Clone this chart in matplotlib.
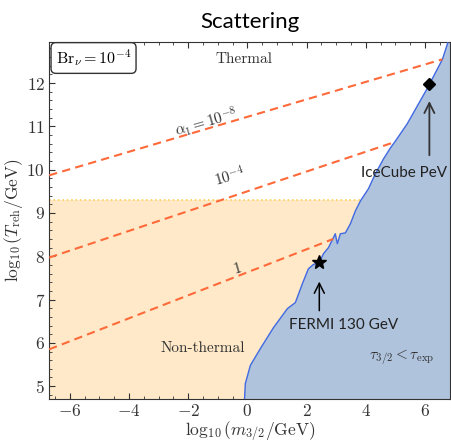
import matplotlib
matplotlib.use('Agg')
import matplotlib.pyplot as plt

plt.rcParams['mathtext.fontset'] = 'cm'
plt.rcParams['font.family'] = ['cmr10', 'DejaVu Serif']
plt.rcParams['axes.formatter.use_mathtext'] = True

# Plot ranges
xlim = (-6.7, 6.85)
ylim = (4.7, 12.95)

# Lifetime bound tau_{3/2} < tau_exp (boundary of the blue region)
bound_x = [-0.1, -0.07, 0.1, 0.44, 0.88, 1.35, 1.62, 1.86, 2.06, 2.23, 2.43,
           2.57, 2.74, 2.97, 3.04, 3.14, 3.31, 3.48, 3.65, 3.82, 4.09, 4.32,
           4.6, 4.83, 5.0, 5.4, 6.08, 6.59, 6.79]
bound_y = [4.67, 5.06, 5.48, 5.87, 6.35, 6.79, 6.93, 7.37, 7.71, 7.81, 7.86,
           8.06, 8.2, 8.52, 8.29, 8.52, 8.54, 8.75, 9.05, 9.28, 9.56, 9.9,
           10.25, 10.5, 10.66, 11.06, 11.88, 12.55, 12.97]

# thermal / non-thermal threshold
t_thermal = 9.3
t_thermal_xmax = 3.85

# alpha_1 contours (endpoints)
alpha_labels = [r'$\alpha_1 = 10^{-8}$', r'$10^{-4}$', r'$1$']
alpha_x = [(-6.7, 6.59), (-6.7, 4.9), (-6.7, 2.9)]
alpha_y = [(9.87, 12.55), (7.97, 10.62), (5.85, 8.4)]
alpha_label_pos = [(-1.4, 11.1), (-0.6, 9.85), (-0.35, 7.72)]

# experimental hints
fermi = (2.43, 7.86)
icecube = (6.15, 11.97)

fig = plt.figure(figsize=(4.51, 4.42), dpi=100)
ax = fig.add_axes([0.109, 0.097, 0.889, 0.808])

# non-thermal region
ax.axhspan(ylim[0], t_thermal, color='#ffe9c8', zorder=0, lw=0)
ax.hlines(t_thermal, xlim[0], t_thermal_xmax, colors='#ffcf5a', linestyles=':', lw=1.2, zorder=1)

# excluded region
poly_x = bound_x + [xlim[1] + 1, xlim[1] + 1]
poly_y = bound_y + [ylim[1] + 1, ylim[0] - 1]
ax.fill(poly_x, poly_y, color='#afc3dd', lw=0, zorder=2)
ax.plot(bound_x, bound_y, color='#4169e1', lw=1.0, zorder=3)

for lab, xs, ys, pos in zip(alpha_labels, alpha_x, alpha_y, alpha_label_pos):
    ax.plot(xs, ys, color='#ff6a3a', ls='--', lw=1.5, zorder=4, dashes=(4, 2.5))
    ax.text(pos[0], pos[1], lab, rotation=16, ha='center', va='center', fontsize=11, color='#333333')

ax.plot(*fermi, marker='*', color='k', ms=10, zorder=5)
ax.plot(*icecube, marker='D', color='k', ms=6, zorder=5)
ax.annotate('', xy=(fermi[0], fermi[1] - 0.38), xytext=(fermi[0], fermi[1] - 1.18),
            arrowprops=dict(arrowstyle='->', color='k', lw=1.1, mutation_scale=18), zorder=5)
ax.annotate('', xy=(icecube[0], icecube[1] - 0.32), xytext=(icecube[0], icecube[1] - 1.7),
            arrowprops=dict(arrowstyle='->', color='#333333', lw=1.3, mutation_scale=18), zorder=5)
ax.text(3.24, 6.42, 'FERMI 130 GeV', family='Lato', fontsize=11, ha='center', va='center', color='#222222')
ax.text(5.3, 9.93, 'IceCube PeV', family='Lato', fontsize=11, ha='center', va='center', color='#222222')

ax.text(-0.1, 12.55, 'Thermal', fontsize=11, ha='center', va='center', color='#333333')
ax.text(-1.5, 5.87, 'Non-thermal', fontsize=11, ha='center', va='center', color='#333333')
ax.text(5.2, 5.66, r'$\tau_{3/2} < \tau_{\rm exp}$', fontsize=11, ha='center', va='center', color='#333333')
ax.text(-5.2, 12.58, r'$\mathrm{Br}_\nu = 10^{-4}$', fontsize=11.5, ha='center', va='center',
        bbox=dict(boxstyle='round,pad=0.3', fc='white', ec='#333333', lw=1.0), zorder=6)

ax.set_xlim(*xlim)
ax.set_ylim(*ylim)
ax.set_xticks([-6, -4, -2, 0, 2, 4, 6])
ax.set_yticks([5, 6, 7, 8, 9, 10, 11, 12])
ax.minorticks_on()
ax.tick_params(which='both', direction='in', top=True, right=True, labelsize=12.5, colors='#333333')
ax.tick_params(which='major', length=4, pad=3)
ax.tick_params(which='minor', length=2)
for s in ax.spines.values():
    s.set_color('#333333')
ax.set_xlabel(r'$\log_{10}(m_{3/2}/\mathrm{GeV})$', fontsize=12.5, labelpad=0, color='#333333')
ax.set_ylabel(r'$\log_{10}(T_{\rm reh}/\mathrm{GeV})$', fontsize=12.5, labelpad=1, color='#333333')
ax.set_title('Scattering', family='Lato', fontsize=16, pad=10)

fig.savefig('out.png', dpi=100)
